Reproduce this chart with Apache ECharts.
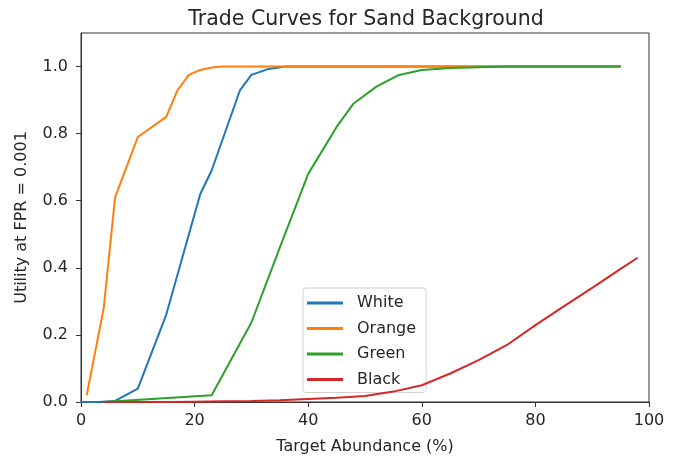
<!DOCTYPE html>
<html>
<head>
<meta charset="utf-8">
<script src="https://cdn.jsdelivr.net/npm/echarts@6/dist/echarts.min.js"></script>
<style>
  html, body { margin: 0; padding: 0; background: #fff; }
  #chart { width: 678px; height: 462px; }
</style>
</head>
<body>
<div id="chart"></div>
<script>
// Trade curves: utility at FPR = 0.001 vs. target abundance, sand background.
const seriesNames = ['White', 'Orange', 'Green', 'Black'];

const whiteX = [0, 3, 6, 10, 15, 21, 23, 28, 30, 33, 36, 40, 45, 50, 55, 60, 65, 70, 75, 80, 85, 90, 95];
const whiteY = [0, 0, 0.003, 0.04, 0.26, 0.62, 0.69, 0.93, 0.975, 0.993, 1.0, 1.0, 1.0, 1.0, 1.0, 1.0, 1.0, 1.0, 1.0, 1.0, 1.0, 1.0, 1.0];

const orangeX = [1, 4, 6, 10, 15, 17, 19, 21, 23, 25, 30, 35, 40, 45, 50, 55, 60, 65, 70, 75, 80, 85, 90, 95];
const orangeY = [0.02, 0.28, 0.61, 0.79, 0.85, 0.93, 0.975, 0.99, 0.997, 1.0, 1.0, 1.0, 1.0, 1.0, 1.0, 1.0, 1.0, 1.0, 1.0, 1.0, 1.0, 1.0, 1.0, 1.0];

const greenX = [4, 23, 30, 35, 40, 45, 48, 52, 56, 60, 65, 70, 75, 80, 85, 90, 95];
const greenY = [0, 0.02, 0.237, 0.46, 0.68, 0.82, 0.89, 0.94, 0.975, 0.99, 0.996, 0.998, 1.0, 1.0, 1.0, 1.0, 1.0];

const blackX = [4, 10, 15, 20, 25, 30, 35, 40, 45, 50, 55, 60, 65, 70, 75, 80, 85, 90, 95, 98];
const blackY = [0, 0, 0, 0.001, 0.002, 0.003, 0.005, 0.009, 0.013, 0.018, 0.031, 0.05, 0.085, 0.125, 0.17, 0.229, 0.285, 0.34, 0.397, 0.43];

const xTicks = [0, 20, 40, 60, 80, 100];
const yTicks = [0, 0.2, 0.4, 0.6, 0.8, 1.0];

const palette = ['#1f77b4', '#ff7f0e', '#2ca02c', '#d62728'];
const FONT = 'DejaVu Sans';
const TEXT = '#262626';

function pairs(xs, ys) { return xs.map((x, i) => [x, ys[i]]); }
const allData = [pairs(whiteX, whiteY), pairs(orangeX, orangeY), pairs(greenX, greenY), pairs(blackX, blackY)];

const chart = echarts.init(document.getElementById('chart'), null, { renderer: 'canvas' });

chart.setOption({
  animation: false,
  backgroundColor: '#fff',
  color: palette,
  title: {
    text: 'Trade Curves for Sand Background',
    left: 361, top: 4, textAlign: 'center',
    textStyle: { fontFamily: FONT, fontSize: 20.5, fontWeight: 'normal', color: TEXT }
  },
  grid: {
    left: 81, right: 29, top: 33, bottom: 60,
    show: true, borderColor: '#333', borderWidth: 1, backgroundColor: 'transparent'
  },
  legend: {
    orient: 'vertical',
    left: 303, top: 288,
    width: 124,
    padding: [7, 10, 5, 4],
    itemGap: 9.5,
    itemWidth: 36,
    itemHeight: 3,
    icon: 'rect',
    backgroundColor: 'rgba(255,255,255,0.8)',
    borderColor: '#d0d0d0', borderWidth: 1, borderRadius: 3,
    textStyle: { fontFamily: FONT, fontSize: 16, color: TEXT, padding: [0, 0, 0, 9], lineHeight: 15 },
    data: seriesNames
  },
  xAxis: {
    type: 'value', min: 0, max: 100, interval: 20,
    name: 'Target Abundance (%)', nameLocation: 'middle', nameGap: 37,
    nameTextStyle: { fontFamily: FONT, fontSize: 16, color: TEXT },
    axisLine: { show: true, onZero: false, lineStyle: { color: '#333', width: 1 } },
    axisTick: { show: true, inside: false, length: 5, lineStyle: { color: '#333' } },
    axisLabel: { fontFamily: FONT, fontSize: 16, color: TEXT, margin: 11 },
    splitLine: { show: false }
  },
  yAxis: {
    type: 'value', min: 0, max: 1.1,
    name: 'Utility at FPR = 0.001', nameLocation: 'middle', nameGap: 51, nameRotate: 90,
    nameTextStyle: { fontFamily: FONT, fontSize: 16, color: TEXT },
    axisLine: { show: true, lineStyle: { color: '#333', width: 1 } },
    axisTick: { show: true, inside: false, length: 5, lineStyle: { color: '#333' }, customValues: yTicks },
    axisLabel: { fontFamily: FONT, fontSize: 16, color: TEXT, margin: 13, customValues: yTicks,
      formatter: v => v.toFixed(1) },
    splitLine: { show: false }
  },
  series: seriesNames.map((name, i) => ({
    name, type: 'line', data: allData[i],
    symbol: 'none', showSymbol: false, smooth: false,
    lineStyle: { width: 2, color: palette[i] },
    itemStyle: { color: palette[i] },
    z: 2 + i
  }))
});
</script>
</body>
</html>
